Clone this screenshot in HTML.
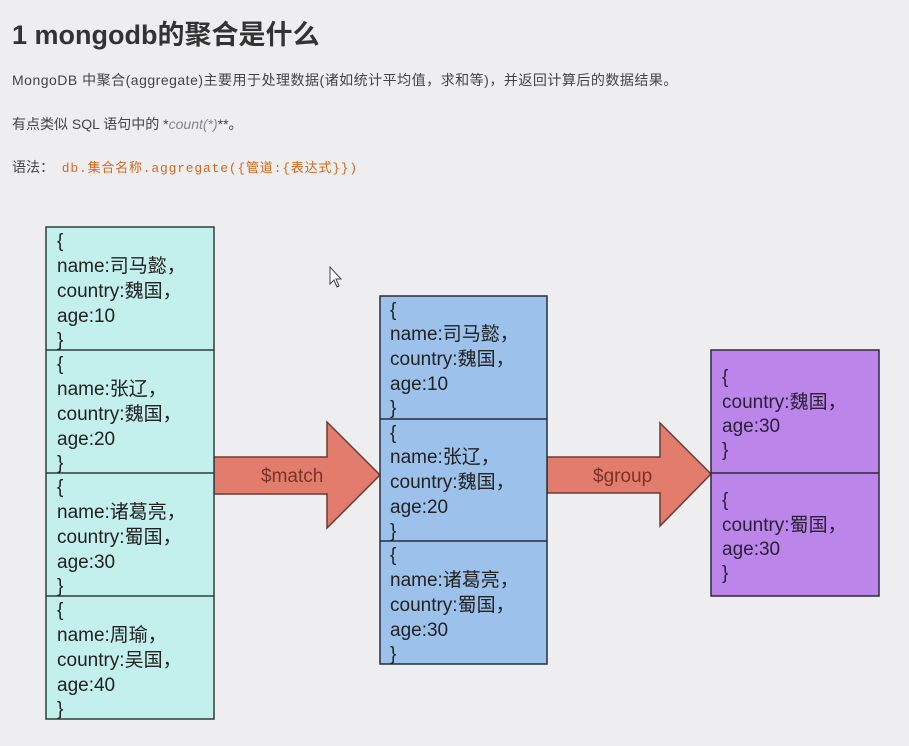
<!DOCTYPE html>
<html><head><meta charset="utf-8"><style>
html,body{margin:0;padding:0;background:#eeedef;}
body{width:909px;height:746px;position:relative;overflow:hidden;font-family:"Liberation Sans","Noto Sans CJK SC",sans-serif;}
.h1{position:absolute;left:12px;top:13px;font-size:27px;font-weight:bold;color:#333;}
.p{position:absolute;left:12px;font-size:14px;color:#444;}
.code{font-family:"Liberation Mono","Noto Sans CJK SC",monospace;color:#d2691e;font-size:13px;letter-spacing:0.8px;}
svg{position:absolute;left:0;top:0;}
svg text{font-family:"Liberation Sans","Noto Sans CJK SC",sans-serif;font-size:19px;fill:#222;}
</style></head><body>
<div class="h1">1 mongodb的聚合是什么</div>
<div class="p" style="top:70px;letter-spacing:0.5px">MongoDB 中聚合(aggregate)主要用于处理数据(诸如统计平均值，求和等)，并返回计算后的数据结果。</div>
<div class="p" style="top:114px">有点类似 SQL 语句中的 *<i style="color:#888">count(*)</i>**。</div>
<div class="p" style="top:157px">语法：&nbsp; <span class="code">db.集合名称.aggregate({管道:{表达式}})</span></div>
<svg width="909" height="746">
<polygon points="214,457 327,457 327,422 380,475 327,528 327,494 214,494" fill="#e27c6d" stroke="#6a3b35" stroke-width="1.5"/>
<polygon points="547,457 660,457 660,423 711,474 660,526 660,493 547,493" fill="#e27c6d" stroke="#6a3b35" stroke-width="1.5"/>
<text x="261" y="482" style="fill:#7a3328">$match</text>
<text x="593" y="482" style="fill:#7a3328">$group</text>
<rect x="46" y="227" width="168" height="492" fill="#c3efec" stroke="#2d3e3c" stroke-width="1.5"/>
<line x1="46" y1="350" x2="214" y2="350" stroke="#2d3e3c" stroke-width="1.5"/>
<line x1="46" y1="473" x2="214" y2="473" stroke="#2d3e3c" stroke-width="1.5"/>
<line x1="46" y1="596" x2="214" y2="596" stroke="#2d3e3c" stroke-width="1.5"/>
<g>
<text x="57" y="247">{</text><text x="57" y="272">name:司马懿，</text><text x="57" y="297">country:魏国，</text><text x="57" y="322">age:10</text><text x="57" y="346">}</text>
<text x="57" y="370">{</text><text x="57" y="395">name:张辽，</text><text x="57" y="420">country:魏国，</text><text x="57" y="445">age:20</text><text x="57" y="469">}</text>
<text x="57" y="493">{</text><text x="57" y="518">name:诸葛亮，</text><text x="57" y="543">country:蜀国，</text><text x="57" y="568">age:30</text><text x="57" y="592">}</text>
<text x="57" y="616">{</text><text x="57" y="641">name:周瑜，</text><text x="57" y="666">country:吴国，</text><text x="57" y="691">age:40</text><text x="57" y="715">}</text>
</g>
<rect x="380" y="296" width="167" height="368" fill="#9cc2ec" stroke="#27303c" stroke-width="1.5"/>
<line x1="380" y1="419" x2="547" y2="419" stroke="#27303c" stroke-width="1.5"/>
<line x1="380" y1="541" x2="547" y2="541" stroke="#27303c" stroke-width="1.5"/>
<text x="390" y="316">{</text><text x="390" y="340">name:司马懿，</text><text x="390" y="365">country:魏国，</text><text x="390" y="390">age:10</text><text x="390" y="414">}</text>
<text x="390" y="439">{</text><text x="390" y="463">name:张辽，</text><text x="390" y="488">country:魏国，</text><text x="390" y="513">age:20</text><text x="390" y="537">}</text>
<text x="390" y="561">{</text><text x="390" y="586">name:诸葛亮，</text><text x="390" y="611">country:蜀国，</text><text x="390" y="636">age:30</text><text x="390" y="660">}</text>
<rect x="711" y="350" width="168" height="246" fill="#bb85ea" stroke="#2f2838" stroke-width="1.5"/>
<line x1="711" y1="473" x2="879" y2="473" stroke="#2f2838" stroke-width="1.5"/>
<text x="722" y="383" style="fill:#2a1f35">{</text><text x="722" y="408" style="fill:#2a1f35">country:魏国，</text><text x="722" y="432" style="fill:#2a1f35">age:30</text><text x="722" y="456" style="fill:#2a1f35">}</text>
<text x="722" y="506" style="fill:#2a1f35">{</text><text x="722" y="531" style="fill:#2a1f35">country:蜀国，</text><text x="722" y="555" style="fill:#2a1f35">age:30</text><text x="722" y="579" style="fill:#2a1f35">}</text>
<polygon points="330,267 330,284 334,280 337,287 339,286 336,279 341,279" fill="#fff" stroke="#444" stroke-width="1"/>
</svg>
</body></html>
